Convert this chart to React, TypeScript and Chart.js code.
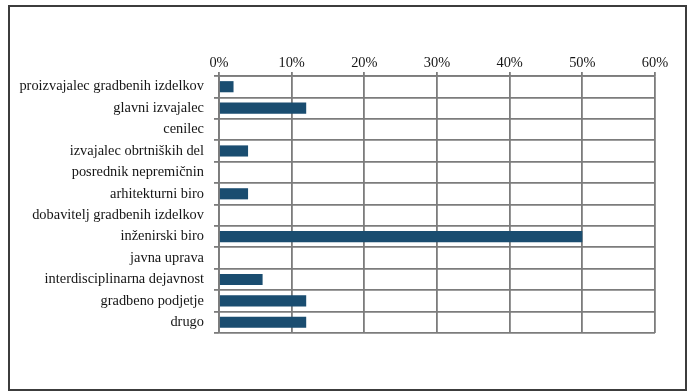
import React, { useEffect, useRef } from "react";
import { Chart, registerables } from "chart.js";

Chart.register(...registerables);

const categories = [
  "proizvajalec gradbenih izdelkov",
  "glavni izvajalec",
  "cenilec",
  "izvajalec obrtniških del",
  "posrednik nepremičnin",
  "arhitekturni biro",
  "dobavitelj gradbenih izdelkov",
  "inženirski biro",
  "javna uprava",
  "interdisciplinarna dejavnost",
  "gradbeno podjetje",
  "drugo",
];
const values = [2, 12, 0, 4, 0, 4, 0, 50, 0, 6, 12, 12];
const xTicks = [0, 10, 20, 30, 40, 50, 60];

export default function App() {
  const ref = useRef<HTMLCanvasElement | null>(null);
  useEffect(() => {
    if (!ref.current) return;
    const font = { family: "'Liberation Serif', 'Times New Roman', serif", size: 14.4 };
    const chart = new Chart(ref.current, {
      type: "bar",
      data: {
        labels: categories,
        datasets: [
          {
            data: values,
            backgroundColor: "#1a4d70",
            barPercentage: 0.52,
            categoryPercentage: 1,
          },
        ],
      },
      options: {
        indexAxis: "y",
        animation: false,
        responsive: false,
        maintainAspectRatio: false,
        layout: { padding: { left: 0, right: 40, top: 0, bottom: 58 } },
        plugins: { legend: { display: false }, tooltip: { enabled: false } },
        scales: {
          x: {
            position: "top",
            min: 0,
            max: 60,
            afterBuildTicks: (s: any) => {
              s.ticks = xTicks.map((v) => ({ value: v }));
            },
            afterFit: (s: any) => {
              s.height = 76;
            },
            ticks: {
              callback: (v: any) => v + "%",
              font,
              color: "#151515",
              padding: 0,
            },
            grid: { color: "#7c7c7c", lineWidth: 1.8, tickLength: 4 },
            border: { color: "#7c7c7c", width: 1.8 },
          },
          y: {
            afterFit: (s: any) => {
              s.width = 219;
            },
            ticks: { font, color: "#151515", padding: 10, autoSkip: false },
            grid: { color: "#7c7c7c", lineWidth: 1.8, tickLength: 5, offset: true },
            border: { color: "#7c7c7c", width: 1.8 },
          },
        },
      },
    });
    return () => chart.destroy();
  }, []);
  return (
    <div>
      <div
        style={{
          position: "absolute",
          left: 8,
          top: 5,
          width: 679,
          height: 386,
          boxSizing: "border-box",
          border: "2px solid #3c3c3c",
          background: "#fff",
        }}
      />
      <canvas
        ref={ref}
        width={695}
        height={391}
        style={{ position: "absolute", left: 0, top: 0, width: 695, height: 391 }}
      />
    </div>
  );
}
